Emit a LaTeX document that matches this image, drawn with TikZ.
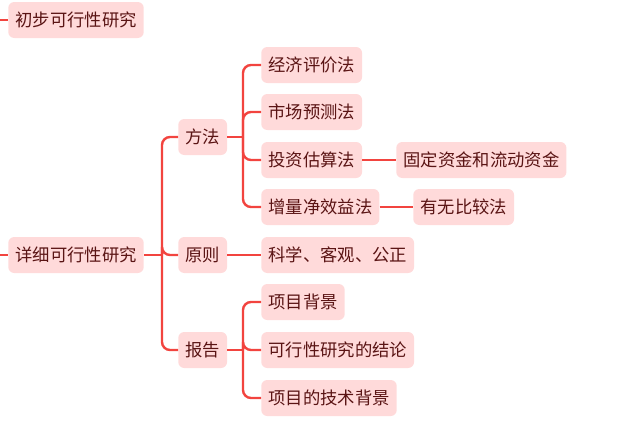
\documentclass[tikz,border=0pt]{standalone}
\usepackage{fontspec}
\newfontfamily\cjk{Noto Sans CJK SC}
\definecolor{boxfill}{HTML}{FFDADA}
\definecolor{linkred}{HTML}{F2443F}
\definecolor{textred}{HTML}{5A1414}

\begin{document}
\begin{tikzpicture}[x=0.75pt, y=-0.75pt,
  topic/.style={fill=boxfill, text=textred, rounded corners=4.5pt,
    minimum height=27pt, inner xsep=5.3pt, inner ysep=0pt, anchor=west,
    font=\cjk\fontsize{13}{16}\selectfont},
  link/.style={draw=linkred, line width=1.8pt},
  elbow/.style={link, rounded corners=6pt}]
  \useasboundingbox (0,0) rectangle (623,421);
  % root topics
  \node[topic] (chubu) at (8,20) {初步可行性研究};
  \node[topic] (xiangxi) at (8,255) {详细可行性研究};
  \coordinate (s1) at (0,20);
  \coordinate (s2) at (0,255);
  \draw[link] (s1) -- (chubu.west);
  \draw[link] (s2) -- (xiangxi.west);
  % second level
  \node[topic] (fangfa) at (178,137) {方法};
  \node[topic] (yuanze) at (178,255) {原则};
  \node[topic] (baogao) at (178,350) {报告};
  \coordinate (j1) at (162,255);
  \draw[link] (xiangxi.east) -- (j1);
  \draw[elbow] (j1) |- (fangfa.west);
  \draw[elbow] (j1) |- (yuanze.west);
  \draw[elbow] (j1) |- (baogao.west);
  % methods
  \node[topic] (jingji) at (261,65) {经济评价法};
  \node[topic] (shichang) at (261,112) {市场预测法};
  \node[topic] (touzi) at (261,160) {投资估算法};
  \node[topic] (zengliang) at (261,207) {增量净效益法};
  \node[topic] (guding) at (396,160) {固定资金和流动资金};
  \node[topic] (youwu) at (413,207) {有无比较法};
  \coordinate (j2) at (243,137);
  \draw[link] (fangfa.east) -- (j2);
  \foreach \n in {jingji, shichang, touzi, zengliang}
    \draw[elbow] (j2) |- (\n.west);
  \draw[link] (touzi.east) -- (guding.west);
  \draw[link] (zengliang.east) -- (youwu.west);
  % principle
  \node[topic] (kexue) at (261,255) {科学、客观、公正};
  \draw[link] (yuanze.east) -- (kexue.west);
  % report
  \node[topic] (beijing) at (261,302) {项目背景};
  \node[topic] (jielun) at (261,350) {可行性研究的结论};
  \node[topic] (jishu) at (261,398) {项目的技术背景};
  \coordinate (j3) at (243,350);
  \draw[link] (baogao.east) -- (j3);
  \foreach \n in {beijing, jielun, jishu}
    \draw[elbow] (j3) |- (\n.west);
\end{tikzpicture}
\end{document}
